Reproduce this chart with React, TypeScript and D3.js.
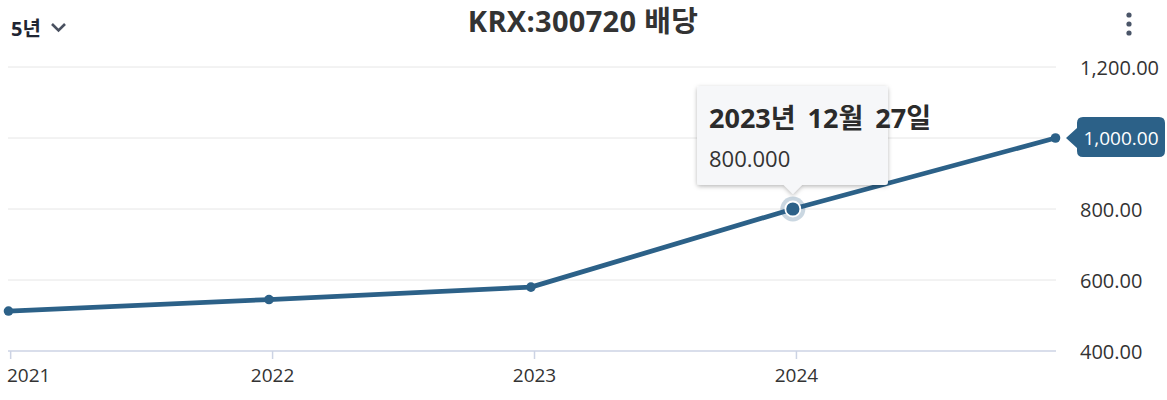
import React from "react";
import * as d3 from "d3";

const dates = ["2020-12-29", "2021-12-27", "2022-12-27", "2023-12-27", "2024-12-27"];
const values = [512.5, 545, 580, 800, 1000];
const yTicks = [400, 600, 800, 1000, 1200];
const xTickYears = [2021, 2022, 2023, 2024];
const titleText = "KRX:300720 배당";
const periodText = "5년";
const tooltipTitle = "2023년 12월 27일";
const tooltipValue = "800.000";
const hoverIndex = 3;

const W = 1167;
const H = 400;
const FONT = "'Open Sans', 'Noto Sans', 'Noto Sans CJK KR', sans-serif";
const LINE = "#2c6188";

export default function App() {
  const parse = d3.timeParse("%Y-%m-%d");
  const pts = dates.map((d, i) => ({ date: parse(d) as Date, value: values[i] }));
  const x = d3
    .scaleTime()
    .domain([pts[0].date, pts[pts.length - 1].date])
    .range([8.5, 1055.5]);
  const y = d3.scaleLinear().domain([400, 1200]).range([351, 67]);
  const line = d3
    .line<{ date: Date; value: number }>()
    .x((d) => x(d.date))
    .y((d) => y(d.value));
  const fmt = d3.format(",.2f");
  const last = pts[pts.length - 1];
  const hp = pts[hoverIndex];
  const hx = x(hp.date);
  const hy = y(hp.value);
  const ly = y(last.value);

  return (
    <svg width={W} height={H} style={{ position: "absolute", left: 0, top: 0, fontFamily: FONT }}>
      <defs>
        <filter id="sh" x="-20%" y="-20%" width="140%" height="150%">
          <feDropShadow dx="0" dy="1.5" stdDeviation="2.2" floodColor="#000" floodOpacity="0.28" />
        </filter>
      </defs>
      <rect width={W} height={H} fill="#fff" />
      {/* header */}
      <text x={11} y={36} fontSize={20} fontWeight={700} fill="#1f2533">
        {periodText}
      </text>
      <path d="M52,24 L58.5,30.5 L65,24" fill="none" stroke="#4a5160" strokeWidth={2.6} />
      <text x={583} y={32} fontSize={29} fontWeight={700} fill="#333" textAnchor="middle" letterSpacing={0.3}>
        {titleText}
      </text>
      {[15, 24, 33].map((cy) => (
        <circle key={cy} cx={1129} cy={cy} r={2.6} fill="#4a5568" />
      ))}
      {/* grid */}
      {yTicks.slice(1).map((t) => (
        <line key={t} x1={8} x2={1056} y1={y(t)} y2={y(t)} stroke="#e6e6e6" strokeWidth={1} />
      ))}
      {/* x axis */}
      <line x1={8} x2={1056} y1={351} y2={351} stroke="#ccd3e4" strokeWidth={1.5} />
      {xTickYears.map((yr, i) => {
        const tx = x(new Date(yr, 0, 1));
        return (
          <g key={yr}>
            <line x1={tx} x2={tx} y1={351} y2={359} stroke="#ccd3e4" strokeWidth={1.5} />
            <text
              x={i === 0 ? 7 : tx}
              y={382}
              fontSize={19}
              fill="#333"
              textAnchor={i === 0 ? "start" : "middle"}
            >
              {yr}
            </text>
          </g>
        );
      })}
      {/* y labels */}
      {yTicks.map((t) =>
        t === last.value ? null : (
          <text key={t} x={1080} y={y(t) + 7.5} fontSize={20} fill="#333">
            {fmt(t)}
          </text>
        )
      )}
      {/* line */}
      <path d={line(pts) || ""} fill="none" stroke={LINE} strokeWidth={4.8} strokeLinejoin="round" />
      {pts.map((p, i) =>
        i === hoverIndex ? null : <circle key={i} cx={x(p.date)} cy={y(p.value)} r={4.8} fill={LINE} />
      )}
      {/* hover marker */}
      <circle cx={hx} cy={hy} r={12.5} fill={LINE} fillOpacity={0.25} />
      <circle cx={hx} cy={hy} r={7.5} fill={LINE} stroke="#fff" strokeWidth={1.8} />
      {/* last value label */}
      <path
        d={`M1066,${ly} L1077,${ly - 10} L1077,${ly - 15} Q1077,${ly - 21} 1083,${ly - 21} L1159,${ly - 21} Q1165,${ly - 21} 1165,${ly - 15} L1165,${ly + 13} Q1165,${ly + 19} 1159,${ly + 19} L1083,${ly + 19} Q1077,${ly + 19} 1077,${ly + 13} L1077,${ly + 10} Z`}
        fill={LINE}
      />
      <text x={1121} y={ly + 7} fontSize={19} fill="#fff" textAnchor="middle">
        {fmt(last.value)}
      </text>
      {/* tooltip */}
      <g filter="url(#sh)">
        <path
          d={`M700,86 L885,86 Q888,86 888,89 L888,182 Q888,185 885,185 L${hx + 9},185 L${hx},194 L${hx - 9},185 L700,185 Q697,185 697,182 L697,89 Q697,86 700,86 Z`}
          fill="#f6f7f9"
        />
      </g>
      <text x={709} y={128} fontSize={27} fontWeight={700} fill="#2b2b2b" wordSpacing={5}>
        {tooltipTitle}
      </text>
      <text x={709} y={167} fontSize={22} fill="#333">
        {tooltipValue}
      </text>
    </svg>
  );
}
